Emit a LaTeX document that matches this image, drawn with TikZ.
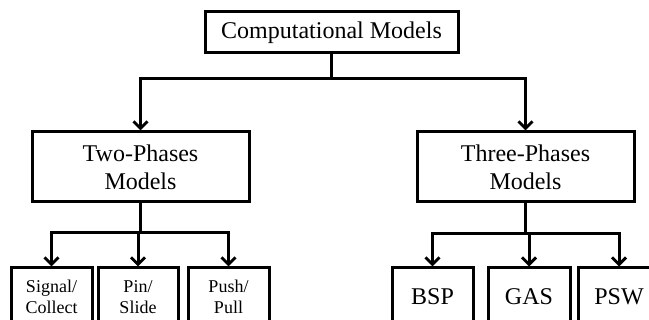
\documentclass[tikz,border=0pt]{standalone}
\usepackage{fontspec}
\setmainfont{Liberation Serif}
\usetikzlibrary{arrows.meta}
\begin{document}
\begin{tikzpicture}[x=1pt,y=-1pt,
  box/.style={draw, line width=3pt, inner sep=0pt, align=center,
              font=\fontsize{24}{28}\selectfont},
  leaf/.style={box, minimum height=58pt},
  smalltext/.style={font=\fontsize{18}{21}\selectfont},
  link/.style={line width=3pt,
               -{Straight Barb[length=7pt,width=14pt,line width=3pt]}}]
\useasboundingbox (0,0) rectangle (649,320);
\clip (0,0) rectangle (649,320);

% root
\node[box, minimum width=253pt, minimum height=41pt] (root) at (331.5,32.5)
  {Computational Models};

% second level
\node[box, minimum width=217pt, minimum height=70pt] (two) at (140.5,167)
  {Two-Phases\\Models};
\node[box, minimum width=217pt, minimum height=70pt] (three) at (525.5,167)
  {Three-Phases\\Models};

% leaves of the two-phase branch
\node[leaf, smalltext, minimum width=81pt] (sig)  at (51.5,297)  {Signal/\\Collect};
\node[leaf, smalltext, minimum width=80pt] (pin)  at (138,297)   {Pin/\\Slide};
\node[leaf, smalltext, minimum width=81pt] (push) at (228.5,297) {Push/\\Pull};

% leaves of the three-phase branch
\node[leaf, minimum width=81pt] (bsp) at (432.5,297) {BSP};
\node[leaf, minimum width=82pt] (gas) at (529,297)   {GAS};
\node[leaf, minimum width=82pt] (psw) at (619,297)   {PSW};

% connectors
\draw[link] (root.south) -- ++(0,24) -| (two.north);
\draw[link] (root.south) -- ++(0,24) -| (three.north);

\draw[link] (two.south) -- ++(0,29) -| (sig.north);
\draw[link] (two.south) -- ++(0,29) -| (pin.north);
\draw[link] (two.south) -- ++(0,29) -| (push.north);

\draw[link] (three.south) -- ++(0,30) -| (bsp.north);
\draw[link] (three.south) -- ++(0,30) -| (gas.north);
\draw[link] (three.south) -- ++(0,30) -| (psw.north);
\end{tikzpicture}
\end{document}
